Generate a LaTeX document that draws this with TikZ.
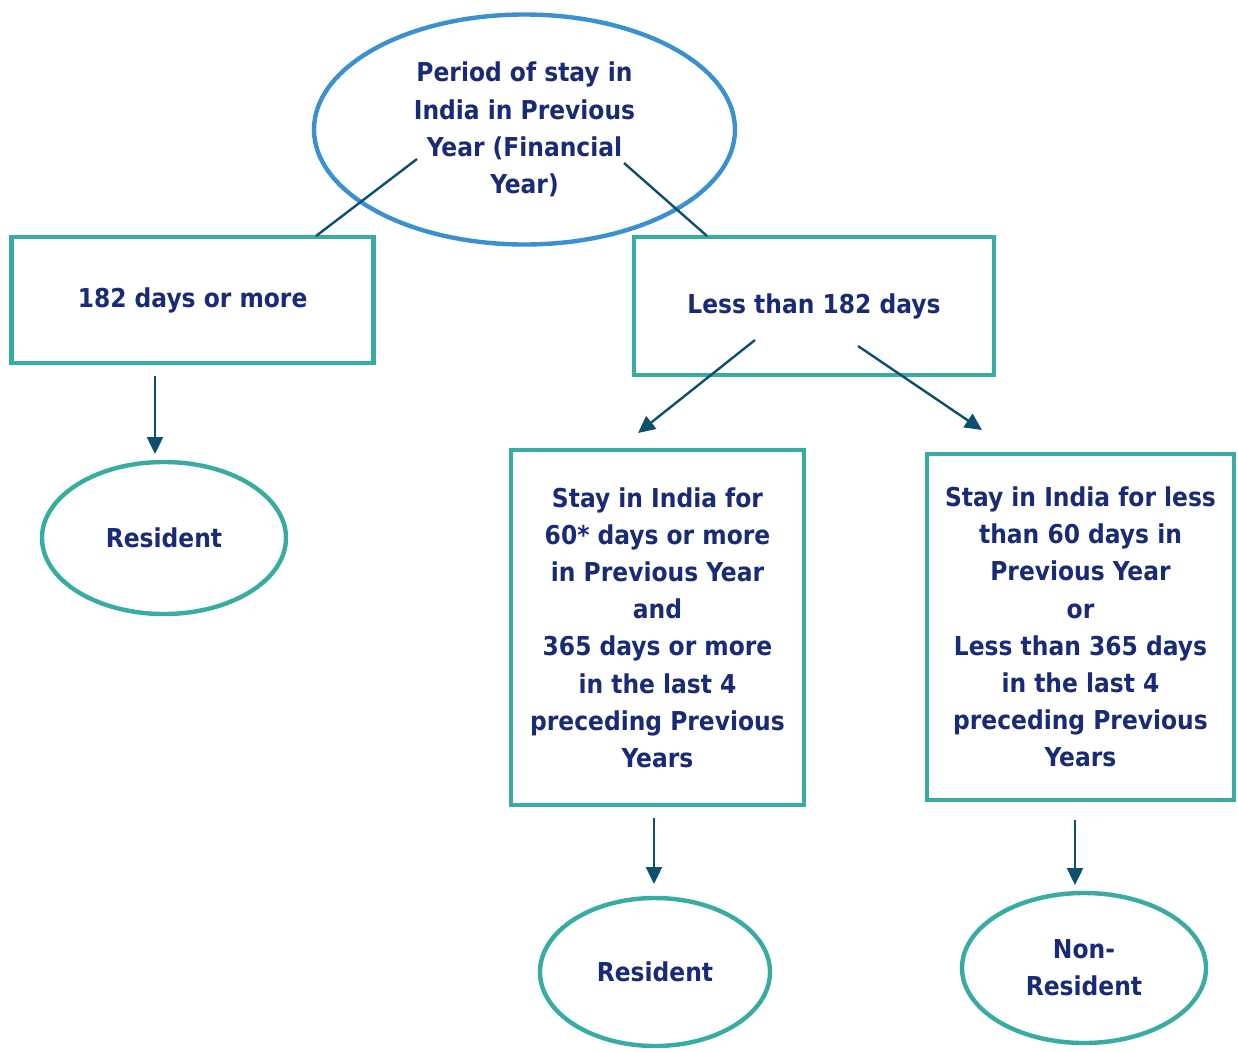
\documentclass[tikz,border=0pt]{standalone}
\usepackage{fontspec}
\setmainfont{DejaVu Sans Condensed}
\usetikzlibrary{arrows.meta,shapes.geometric}
\usepackage{xcolor}
\definecolor{ovalblue}{RGB}{59,145,208}
\definecolor{boxteal}{RGB}{56,172,160}
\definecolor{linkblue}{RGB}{12,80,112}
\definecolor{textnavy}{RGB}{25,42,118}

\begin{document}
\begin{tikzpicture}[x=0.5pt, y=-0.5pt]
 \tikzstyle{every node}=[text=textnavy, font=\bfseries\fontsize{13}{18.6}\selectfont,
                       align=center, inner sep=0pt]
 \tikzstyle{oval}=[ellipse, draw=boxteal, line width=2.2pt]
 \tikzstyle{box}=[rectangle, draw=boxteal, line width=2.3pt]
 \tikzstyle{link}=[linkblue, line width=1.2pt]
 \tikzstyle{arrow}=[link, -{Triangle[length=8.5pt, width=8pt]}]

        \useasboundingbox (0,0) rectangle (1238,1051);

        \node[oval, draw=ovalblue, minimum width=210.5pt, minimum height=115pt]
            (period) at (524.5,129.5) {Period of stay in\\India in Previous\\Year (Financial\\Year)};

        \node[box, minimum width=181pt, minimum height=63pt] (more) at (192.6,300) {182 days or more};
        \node[box, minimum width=180pt, minimum height=69pt] (less) at (814,306) {Less than 182 days};

        \node[box, minimum width=146.5pt, minimum height=177.5pt] (stayA) at (657.5,627.5)
            {Stay in India for\\60* days or more\\in Previous Year\\and\\365 days or more\\in the last 4\\preceding Previous\\Years};
        \node[box, minimum width=153.5pt, minimum height=173pt] (stayB) at (1080.5,627)
            {Stay in India for less\\than 60 days in\\Previous Year\\or\\Less than 365 days\\in the last 4\\preceding Previous\\Years};

        \node[oval, minimum width=122pt, minimum height=76pt] (resA) at (164,538) {Resident};
        \node[oval, minimum width=115pt, minimum height=74pt] (resB) at (655,972) {Resident};
        \node[oval, minimum width=122pt, minimum height=75pt] (nonres) at (1084,968) {Non-\\Resident};

        \coordinate (p1) at (417,159);   % lines out of the oval
        \coordinate (p2) at (316,236);
        \coordinate (p3) at (624,163);
        \coordinate (p4) at (707,236);
        \coordinate (q1) at (755,340);   % arrows out of less
        \coordinate (q2) at (638,433);
        \coordinate (q3) at (858,346);
        \coordinate (q4) at (982,430);
        \coordinate (r1) at (155,376);
        \coordinate (r2) at (155,454);
        \coordinate (r3) at (654,818);
        \coordinate (r4) at (654,884);
        \coordinate (r5) at (1075,820);
        \coordinate (r6) at (1075,885);

        \path[link]
    (p1) edge (p2)
    (p3) edge (p4);

        \path[arrow]
    (q1) edge (q2)
    (q3) edge (q4)
    (r1) edge (r2)
    (r3) edge (r4)
    (r5) edge (r6);

\end{tikzpicture}
\end{document}
